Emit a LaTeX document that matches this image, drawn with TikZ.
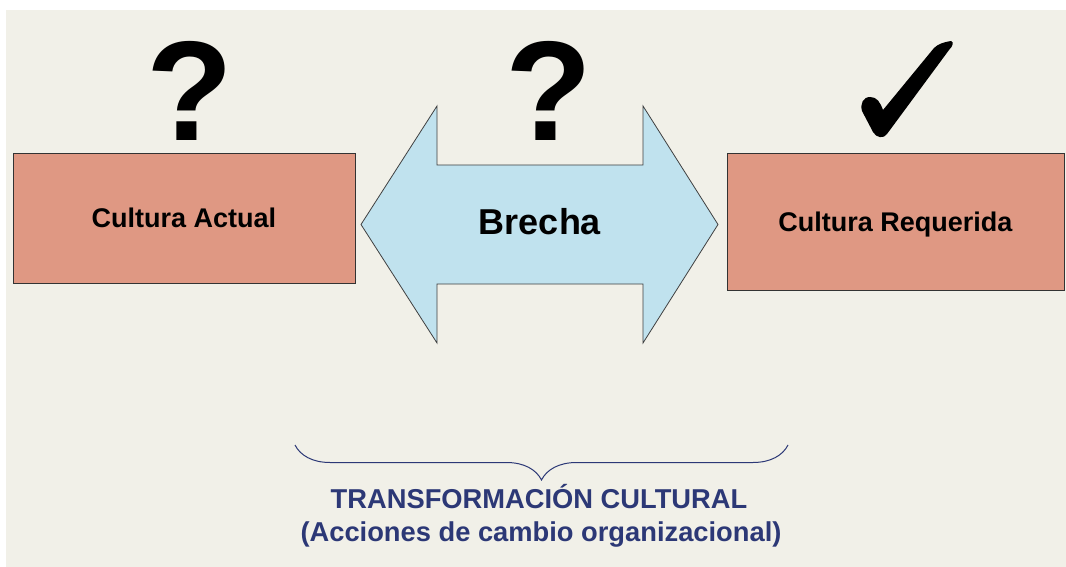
\documentclass[tikz,border=0pt]{standalone}
\usepackage{fontspec}
\setmainfont{Liberation Sans}
\usetikzlibrary{positioning,decorations.pathreplacing}
\definecolor{fondo}{HTML}{F1F0E8}
\definecolor{salmon}{HTML}{DF9883}
\definecolor{celeste}{HTML}{C0E2EE}
\definecolor{marino}{HTML}{2C3876}
\tikzstyle{cultura} = [rectangle, draw=black!80, line width=0.8pt, fill=salmon, text height=19.5pt, text depth=0pt, font=\fontsize{27}{32}\selectfont\bfseries]
\tikzstyle{signo} = [inner sep=0pt, font=\fontsize{142}{142}\selectfont\bfseries]
\tikzstyle{flecha} = [draw=black!75, line width=0.8pt, fill=celeste]
\tikzstyle{leyenda} = [inner sep=0pt, anchor=base, text=marino, font=\fontsize{27.3}{33}\selectfont\bfseries]
\tikzstyle{llave} = [draw=marino, line width=1pt, decorate, decoration={brace, mirror, amplitude=35pt}]

\begin{document}
\begin{tikzpicture}[x=1pt, y=-1pt]
	\useasboundingbox (0,0) rectangle (1066,567);
	\fill[fondo] (6,10) rectangle (1066,567);
	\node [cultura, minimum width=342pt, minimum height=130pt] (actual) at (184,218) {Cultura Actual};
	\node [cultura, minimum width=337pt, minimum height=137pt] (requerida) at (895.5,221.5) {Cultura Requerida};
	\path [flecha] (361,224.5) -- (437,106) -- (437,165) -- (643,165) -- (643,106) -- (718,224.5) -- (643,343) -- (643,284) -- (437,284) -- (437,343) -- cycle;
	\node [font=\fontsize{36}{40}\selectfont\bfseries] (brecha) at (540,222) {Brecha};
	\node [signo, above=12pt of actual, xshift=6pt] (dudaA) {?};
	\node [signo, right=272pt of dudaA] (dudaB) {?};
	\fill (951,41) .. controls (944,42) and (938,44) .. (934,48) -- (883,110) .. controls (880,102) and (877,97) .. (870,97) .. controls (863,97) and (860,104) .. (862,111) -- (873,132) .. controls (876,138) and (884,139) .. (887,134) -- (949,50) .. controls (953,46) and (954,42) .. (951,41) -- cycle;
	\coordinate (llaveA) at (295,445);
	\coordinate (llaveB) at (788,445);
	\path [llave] (llaveA) -- (llaveB);
	\node [leyenda] (transf) at (539,508) {TRANSFORMACIÓN CULTURAL};
	\node [leyenda] (acciones) at (541,541.5) {(Acciones de cambio organizacional)};
\end{tikzpicture}
\end{document}
